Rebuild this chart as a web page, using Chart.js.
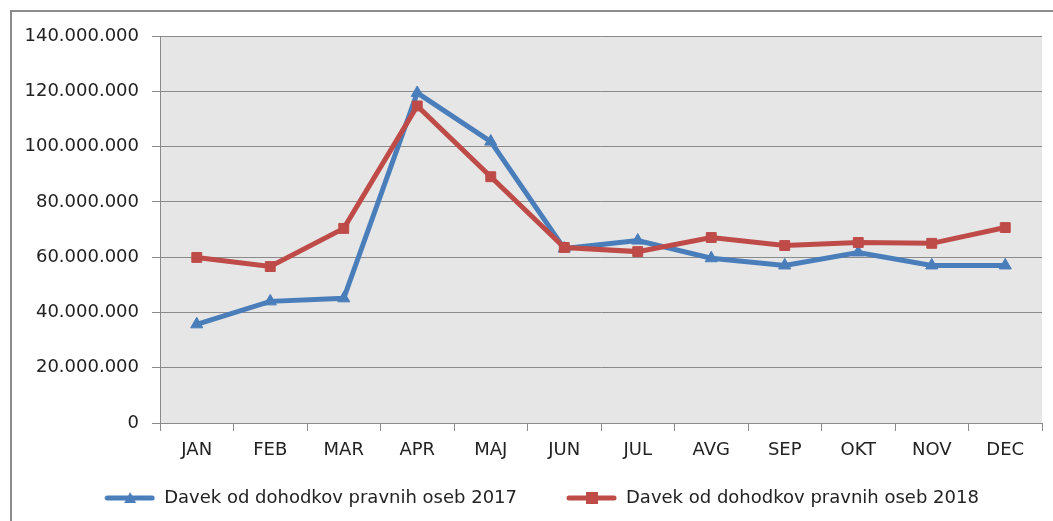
<!DOCTYPE html>
<html>
<head>
<meta charset="utf-8">
<script src="https://cdn.jsdelivr.net/npm/chart.js@4.4.0/dist/chart.umd.min.js"></script>
<style>
    html, body { margin: 0; padding: 0; background: #ffffff; overflow: hidden; }
    #wrap { position: relative; width: 1053px; height: 521px; }
    #frame {
        position: absolute; left: 10px; top: 10px; width: 1100px; height: 600px;
        border-left: 2px solid #8c8c8c; border-top: 2px solid #8c8c8c;
        pointer-events: none;
    }
</style>
</head>
<body>
<div id="wrap">
    <canvas id="chart" width="1053" height="521"></canvas>
    <div id="frame"></div>
</div>
<script>
// Data
const months = ['JAN', 'FEB', 'MAR', 'APR', 'MAJ', 'JUN', 'JUL', 'AVG', 'SEP', 'OKT', 'NOV', 'DEC'];
const tax2017 = [35700000, 44000000, 45100000, 119400000, 101800000, 63100000, 66000000, 59600000, 57000000, 61700000, 57000000, 57000000];
const tax2018 = [59900000, 56600000, 70400000, 114700000, 89100000, 63500000, 62000000, 67100000, 64200000, 65300000, 65000000, 70700000];
const label2017 = 'Davek od dohodkov pravnih oseb 2017';
const label2018 = 'Davek od dohodkov pravnih oseb 2018';

const BLUE = '#4a7ebb';
const RED = '#be4b48';
const GRID = '#8a8a8a';
const FONT = 'DejaVu Sans';

// Format number with dots as thousand separators
function formatDots(v) {
    return String(v).replace(/\B(?=(\d{3})+(?!\d))/g, '.');
}

// Legend icon: empty space on the left, then a line with a marker in the middle
const ICON_W = 92;
function legendIcon(color, shape) {
    const c = document.createElement('canvas');
    c.width = ICON_W;
    c.height = 14;
    const g = c.getContext('2d');
    g.strokeStyle = color;
    g.fillStyle = color;
    g.lineWidth = 5;
    g.lineCap = 'round';
    g.beginPath();
    g.moveTo(ICON_W - 48, 7);
    g.lineTo(ICON_W - 3, 7);
    g.stroke();
    const mid = ICON_W - 25;
    if (shape === 'triangle') {
        g.beginPath();
        g.moveTo(mid, 1);
        g.lineTo(mid + 6, 12);
        g.lineTo(mid - 6, 12);
        g.closePath();
        g.fill();
    } else {
        g.fillRect(mid - 6, 1, 12, 12);
    }
    return c;
}

const icons = [legendIcon(BLUE, 'triangle'), legendIcon(RED, 'rect')];

// Plot area background
const plotBackground = {
    id: 'plotBackground',
    beforeDraw(chart) {
        const { ctx, chartArea } = chart;
        ctx.save();
        ctx.fillStyle = '#e6e6e6';
        ctx.fillRect(chartArea.left, chartArea.top, chartArea.right - chartArea.left, chartArea.bottom - chartArea.top);
        ctx.restore();
    }
};

const ctx = document.getElementById('chart').getContext('2d');
new Chart(ctx, {
    type: 'line',
    data: {
        labels: months,
        datasets: [
            {
                label: label2017,
                data: tax2017,
                borderColor: BLUE,
                backgroundColor: BLUE,
                borderWidth: 5,
                pointStyle: 'triangle',
                pointRadius: 7,
                pointBackgroundColor: BLUE,
                pointBorderColor: BLUE,
                pointBorderWidth: 1,
                tension: 0,
                order: 2
            },
            {
                label: label2018,
                data: tax2018,
                borderColor: RED,
                backgroundColor: RED,
                borderWidth: 5,
                pointStyle: 'rect',
                pointRadius: 7,
                pointBackgroundColor: RED,
                pointBorderColor: RED,
                pointBorderWidth: 1,
                tension: 0,
                order: 1
            }
        ]
    },
    options: {
        responsive: false,
        animation: false,
        layout: {
            padding: { left: 0, top: 36, right: 11, bottom: 4 }
        },
        plugins: {
            tooltip: { enabled: false },
            legend: {
                display: true,
                position: 'bottom',
                labels: {
                    usePointStyle: true,
                    pointStyleWidth: ICON_W,
                    color: '#222',
                    font: { family: FONT, size: 18 },
                    padding: 8,
                    generateLabels(chart) {
                        return chart.data.datasets.map((ds, i) => ({
                            text: ds.label,
                            fillStyle: ds.borderColor,
                            strokeStyle: ds.borderColor,
                            pointStyle: icons[i],
                            datasetIndex: i,
                            fontColor: '#222'
                        }));
                    }
                }
            }
        },
        scales: {
            x: {
                offset: true,
                grid: {
                    offset: true,
                    drawOnChartArea: false,
                    drawTicks: true,
                    tickLength: 8,
                    color: GRID
                },
                border: { color: GRID, width: 1 },
                ticks: {
                    color: '#222',
                    font: { family: FONT, size: 18 },
                    padding: 9,
                    maxRotation: 0
                },
                afterFit(scale) { scale.height = 58; }
            },
            y: {
                min: 0,
                max: 140000000,
                grid: {
                    color: GRID,
                    drawTicks: true,
                    tickLength: 8
                },
                border: { color: GRID, width: 1 },
                ticks: {
                    stepSize: 20000000,
                    color: '#222',
                    font: { family: FONT, size: 18 },
                    padding: 13,
                    callback: (v) => formatDots(v)
                },
                afterFit(scale) { scale.width = 160; }
            }
        }
    },
    plugins: [plotBackground]
});
</script>
</body>
</html>
